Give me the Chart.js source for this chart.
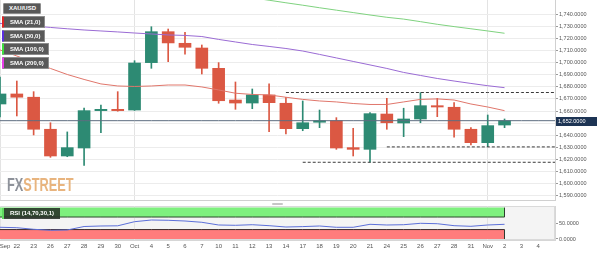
<!DOCTYPE html>
<html lang="en">
<head>
  <meta charset="UTF-8">
  <title>XAU/USD Daily</title>
  <script src="https://cdn.jsdelivr.net/npm/chart.js"></script>
  <style>
    body {
      margin: 0;
      background: #fff;
      font-family: "Liberation Sans", Arial, sans-serif;
    }
    #wrap {
      position: relative;
      width: 597px;
      height: 253px;
      overflow: hidden;
    }
    canvas { position: absolute; left: 0; }
    #mainChart { top: 0; }
    #rsiChart { top: 201px; }

    /* indicator tags top left */
    .tag {
      position: absolute;
      left: 2px;
      height: 10px;
      line-height: 10px;
      padding: 0 4px 0 6px;
      background: #595959;
      border: 1px solid #8c8c8c;
      border-radius: 1px;
      color: #fff;
      font-size: 6px;
      font-weight: bold;
      white-space: nowrap;
    }
    .tag.plain { left: 3px; padding-left: 5px; height: 9px; line-height: 9px; }
    .tag.red    { border-left: 2px solid #e02424; }
    .tag.purple { border-left: 2px solid #5b2ee0; }
    .tag.green  { border-left: 2px solid #3ee03e; }
    .tag.pink   { border-left: 2px solid #e83ce8; }

    #rsiTag {
      position: absolute;
      left: 2px;
      top: 208px;
      width: 50px;
      height: 11px;
      line-height: 11px;
      padding-left: 6px;
      background: rgba(40, 48, 40, 0.88);
      border-left: 2px solid #5fd85f;
      color: #fff;
      font-size: 6px;
      font-weight: bold;
      white-space: nowrap;
    }

    /* watermark */
    #logo {
      position: absolute;
      left: 7px;
      top: 175px;
      font-family: "Liberation Sans Narrow", "Liberation Sans", sans-serif;
      font-weight: bold;
      font-size: 19px;
      line-height: 19px;
      transform: scaleX(0.67);
      transform-origin: left top;
      white-space: nowrap;
    }
    #logo .fx { color: #8e929a; }
    #logo .st { color: #e8b47e; }

    #handle {
      position: absolute;
      left: 272px;
      top: 203px;
      width: 11px;
      height: 2px;
      background: #c6c6c6;
      border-radius: 1px;
    }
  </style>
</head>
<body>
  <div id="wrap">
    <canvas id="mainChart" width="597" height="201"></canvas>
    <canvas id="rsiChart" width="597" height="52"></canvas>

    <div class="tag plain" style="top:3px">XAU/USD</div>
    <div class="tag red" style="top:16px">SMA (21,0)</div>
    <div class="tag purple" style="top:30px">SMA (50,0)</div>
    <div class="tag green" style="top:43px">SMA (100,0)</div>
    <div class="tag pink" style="top:57px">SMA (200,0)</div>

    <div id="logo"><span class="fx">FX</span><span class="st">STREET</span></div>
    <div id="handle"></div>
    <div id="rsiTag">RSI (14,70,30,1)</div>
  </div>

  <script>
    // x categories (daily bars, last three slots are empty future days)
    const labels = ['Sep', '22', '23', '26', '27', '28', '29', '30', 'Oct', '4', '5', '6', '7',
      '10', '11', '12', '13', '14', '17', '18', '19', '20', '21', '24', '25', '26', '27', '28',
      '31', 'Nov', '2', '3', '4', ''];

    // OHLC
    const opens  = [1665.8, 1674.1, 1671.4, 1644.9, 1622.8, 1629.4, 1660.3, 1661.4, 1660.8, 1700.0,
      1725.6, 1716.0, 1712.1, 1695.3, 1669.1, 1666.6, 1673.3, 1666.4, 1645.4, 1650.7, 1652.0,
      1629.7, 1628.3, 1657.5, 1650.1, 1653.4, 1664.4, 1663.1, 1644.9, 1633.8, 1648.4];
    const highs  = [1688.1, 1684.8, 1676.0, 1650.3, 1642.7, 1662.5, 1665.0, 1676.0, 1701.6, 1729.7,
      1727.8, 1725.1, 1714.6, 1700.0, 1684.0, 1678.2, 1682.4, 1671.4, 1668.3, 1660.8, 1654.5,
      1645.7, 1658.6, 1670.5, 1662.3, 1675.2, 1670.5, 1666.9, 1646.2, 1656.7, 1653.4];
    const lows   = [1655.1, 1655.9, 1640.2, 1621.7, 1622.2, 1615.1, 1642.1, 1659.8, 1660.5, 1695.3,
      1700.8, 1706.9, 1690.6, 1666.4, 1661.4, 1661.9, 1642.9, 1641.0, 1643.7, 1646.2, 1628.3,
      1622.8, 1617.6, 1644.9, 1638.8, 1650.3, 1655.3, 1638.3, 1631.9, 1630.5, 1646.2];
    const closes = [1674.1, 1671.4, 1644.9, 1622.8, 1629.7, 1660.3, 1661.1, 1660.3, 1699.7, 1725.6,
      1716.3, 1712.7, 1695.3, 1668.5, 1666.6, 1673.3, 1666.9, 1645.4, 1650.3, 1652.0, 1629.4,
      1628.3, 1657.8, 1650.3, 1653.4, 1664.4, 1663.3, 1644.9, 1633.8, 1647.9, 1652.0];

    // moving averages
    const sma21 = [1710.5, 1705.5, 1700.1, 1695.2, 1690.2, 1686.1, 1682.4, 1680.7, 1680.3, 1680.7,
      1681.5, 1681.5, 1679.9, 1677.4, 1674.7, 1673.7, 1673.3, 1671.4, 1669.6, 1668.3, 1667.5,
      1666.2, 1665.4, 1665.4, 1667.5, 1669.6, 1670.0, 1669.1, 1665.8, 1663.3, 1660.3];
    const sma50 = [1732.4, 1731.6, 1730.3, 1729.1, 1728.0, 1727.0, 1726.2, 1725.4, 1724.5, 1723.7,
      1722.9, 1722.5, 1721.6, 1719.2, 1717.1, 1715.0, 1713.4, 1711.7, 1709.6, 1706.8, 1703.9,
      1701.0, 1698.1, 1695.2, 1691.9, 1689.4, 1686.9, 1684.8, 1682.8, 1680.9, 1679.3];
    const sma100 = [null, null, null, null, null, null, null, null, null, null, null, null, null,
      1757.6, 1755.6, 1753.6, 1751.6, 1749.5, 1747.5, 1745.4, 1743.4, 1741.4, 1739.4, 1737.5,
      1736.0, 1733.9, 1731.7, 1729.8, 1728.0, 1726.2, 1724.3];

    // horizontal levels (dashed) and where they start
    const levelValues = [1675.3, 1630.3, 1617.6];
    const levelStarts = [17, 23, 18];

    const priceTicks = [1590, 1600, 1610, 1620, 1630, 1640, 1650, 1660, 1670, 1680, 1690, 1700,
      1710, 1720, 1730, 1740];

    // RSI (14)
    const rsi = [37.3, 36.0, 30.9, 27.7, 28.7, 39.8, 41.4, 42.0, 55.1, 60.5, 59.6, 57.3, 53.2,
      44.6, 43.6, 45.5, 42.4, 38.2, 39.5, 41.4, 37.3, 37.3, 46.8, 44.6, 45.5, 50.0, 48.7, 42.4,
      40.4, 44.6, 46.8];
    const rsiTicks = [0, 50];
    const rsiUpper = 70, rsiLower = 30;

    // colours
    const upColor = '#2d8a73';
    const downColor = '#db5843';
    const candleColors = opens.map((o, i) => closes[i] >= o ? upColor : downColor);
    const monthStart = labels.map(l => isNaN(parseInt(l)) && l !== '');
    const lastClose = closes[closes.length - 1];

    Chart.defaults.font.family = '"Liberation Sans", Arial, sans-serif';
    Chart.defaults.animation = false;

    const fmt4 = v => Number(v).toLocaleString('en-US', { minimumFractionDigits: 4, maximumFractionDigits: 4 });

    function panelBg(color, stroke) {
      return {
        id: 'panelBg',
        beforeDraw(chart) {
          const a = chart.chartArea, c = chart.ctx;
          c.save();
          c.fillStyle = color;
          c.fillRect(a.left, a.top, a.right - a.left, a.bottom - a.top);
          if (stroke) {
            c.strokeStyle = stroke;
            c.lineWidth = 1;
            c.strokeRect(a.left + 0.5, a.top + 0.5, a.right - a.left - 1, a.bottom - a.top - 1);
          }
          c.restore();
        }
      };
    }

    // axis helpers so both panels share the same plot width
    function fitY(scale) {
      scale.width = 42;
      scale.paddingTop = 0;
      scale.paddingBottom = 0;
    }
    function fitX(h) {
      return function(scale) {
        scale.height = h;
        scale.paddingLeft = 0;
        scale.paddingRight = 0;
      };
    }

    // price tag on the right axis
    const lastPriceTag = {
      id: 'lastPriceTag',
      afterDraw(chart) {
        const c = chart.ctx, y = chart.scales.y.getPixelForValue(lastClose);
        const x0 = chart.chartArea.right + 1;
        c.save();
        c.fillStyle = '#1d3454';
        c.fillRect(x0, Math.round(y) - 4, chart.width - x0, 9);
        c.fillStyle = '#fff';
        c.font = '5.5px "Liberation Sans", Arial, sans-serif';
        c.textBaseline = 'middle';
        c.fillText(fmt4(lastClose), x0 + 2, Math.round(y) + 0.5);
        c.restore();
      }
    };

    const lineDs = (data, color, order, extra) => Object.assign({
      type: 'line',
      data: data,
      borderColor: color,
      borderWidth: 1,
      pointRadius: 0,
      fill: false,
      spanGaps: false,
      order: order
    }, extra || {});

    const levelSets = levelValues.map((v, k) =>
      lineDs(labels.map((_, i) => i >= levelStarts[k] ? v : null), '#3a3a3a', 2, { borderDash: [3, 2] }));

    new Chart(document.getElementById('mainChart'), {
      type: 'bar',
      data: {
        labels: labels,
        datasets: [
          {
            label: 'wick',
            data: highs.map((h, i) => [lows[i], h]),
            backgroundColor: candleColors,
            barThickness: 1,
            grouped: false,
            order: 6
          },
          {
            label: 'body',
            data: opens.map((o, i) => [o, closes[i]]),
            backgroundColor: candleColors,
            barThickness: 12,
            minBarLength: 1.3,
            grouped: false,
            order: 5
          },
          lineDs(labels.map(() => lastClose), '#5d6d80', 3),
          ...levelSets,
          lineDs(sma100, '#7fd27f', 1),
          lineDs(sma50, '#9a6bd4', 1),
          lineDs(sma21, '#e0766b', 1)
        ]
      },
      options: {
        responsive: false,
        layout: { padding: 0 },
        plugins: { legend: { display: false }, tooltip: { enabled: false } },
        scales: {
          x: {
            offset: false,
            grid: {
              offset: false,
              drawTicks: false,
              color: ctx => monthStart[ctx.index] ? '#e3e3e3' : 'rgba(0,0,0,0)'
            },
            border: { display: true, color: '#d0d0d0' },
            ticks: { display: false, autoSkip: false },
            afterFit: fitX(1)
          },
          y: {
            position: 'right',
            min: 1586.4,
            max: 1751.8,
            afterBuildTicks: scale => { scale.ticks = priceTicks.map(v => ({ value: v })); },
            afterFit: fitY,
            grid: { color: '#ececec', tickColor: '#9a9a9a', tickLength: 3 },
            border: { display: true, color: '#d0d0d0' },
            ticks: {
              color: '#555',
              padding: 1,
              font: { size: 5.5 },
              callback: v => fmt4(v)
            }
          }
        }
      },
      plugins: [panelBg('#ffffff'), lastPriceTag]
    });

    // RSI panel
    const bandEdges = {
      id: 'bandEdges',
      afterDatasetsDraw(chart) {
        const c = chart.ctx, xs = chart.scales.x, ys = chart.scales.y;
        const x = Math.round(xs.getPixelForValue(rsi.length - 1)) - 0.5;
        c.save();
        c.strokeStyle = '#2f3a2f';
        c.lineWidth = 1;
        c.beginPath();
        c.moveTo(x, ys.getPixelForValue(100));
        c.lineTo(x, ys.getPixelForValue(rsiUpper));
        c.moveTo(x, ys.getPixelForValue(rsiLower));
        c.lineTo(x, ys.getPixelForValue(0));
        c.stroke();
        c.restore();
      }
    };

    new Chart(document.getElementById('rsiChart'), {
      type: 'line',
      data: {
        labels: labels,
        datasets: [
          lineDs(rsi.map(() => 100), 'rgba(0,0,0,0)', 5,
            { fill: { value: rsiUpper }, backgroundColor: '#7ef07e', borderWidth: 0 }),
          lineDs(rsi.map(() => rsiLower), '#3a2a2a', 4,
            { fill: { value: 0 }, backgroundColor: '#ff7c7c' }),
          lineDs(rsi.map(() => rsiUpper), '#2c4a2c', 3),
          lineDs(rsi, '#5c6fd8', 1)
        ]
      },
      options: {
        responsive: false,
        layout: { padding: { top: 5 } },
        plugins: { legend: { display: false }, tooltip: { enabled: false } },
        scales: {
          x: {
            offset: false,
            grid: {
              offset: false,
              drawTicks: false,
              color: ctx => monthStart[ctx.index] ? '#e3e3e3' : 'rgba(0,0,0,0)'
            },
            border: { display: true, color: '#d6d6d6' },
            ticks: {
              autoSkip: false,
              maxRotation: 0,
              padding: 3,
              color: '#555',
              font: { size: 6 },
              callback: (v, i) => i === 0 ? '      ' + labels[i] : labels[i]
            },
            afterFit: fitX(13)
          },
          y: {
            position: 'right',
            min: -3.2,
            max: 105.1,
            afterBuildTicks: scale => { scale.ticks = rsiTicks.map(v => ({ value: v })); },
            afterFit: fitY,
            grid: { drawOnChartArea: false, tickColor: '#9a9a9a', tickLength: 3 },
            border: { display: true, color: '#d6d6d6' },
            ticks: {
              color: '#555',
              padding: 1,
              font: { size: 5.5 },
              callback: v => fmt4(v)
            }
          }
        }
      },
      plugins: [panelBg('#f4f4f4', '#dadada'), bandEdges]
    });
  </script>
</body>
</html>
